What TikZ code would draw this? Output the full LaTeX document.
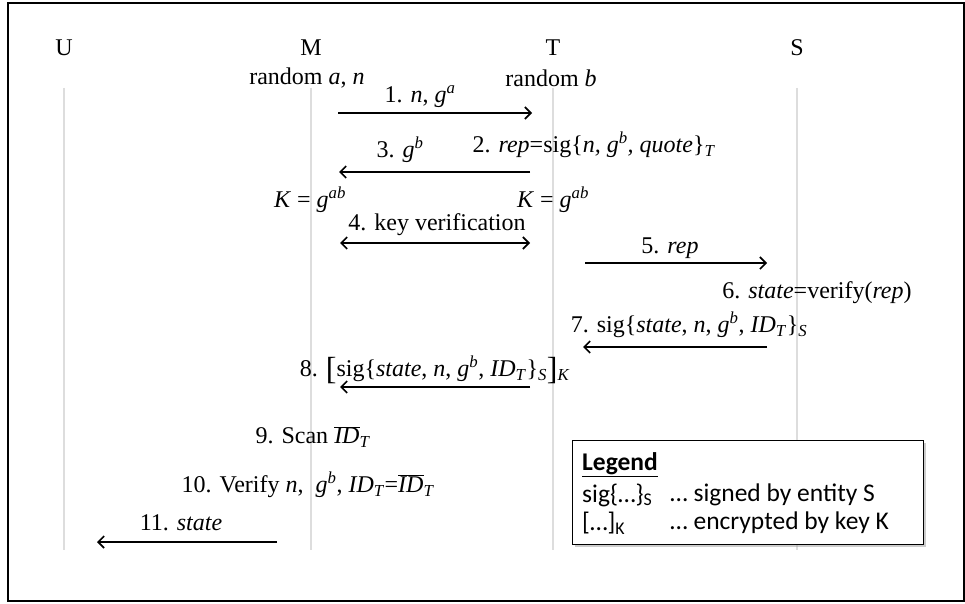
\documentclass[tikz,border=0pt]{standalone}
\usepackage{fontspec}
\setmainfont{Liberation Serif}
\newfontfamily\legendFont{Carlito}
\usetikzlibrary{arrows.meta,shadows}

\newcommand{\vr}[1]{\textit{#1}}
\newcommand{\sps}[1]{\textsuperscript{\textit{#1}}}
\newcommand{\sbs}[1]{\textsubscript{\textit{#1}}}
\newcommand{\barID}{$\overline{\hbox{\textit{ID}}}$}

\begin{document}
\begin{tikzpicture}[x=1pt, y=-1pt,
    every node/.style={font=\fontsize{24}{27}\selectfont, inner sep=0pt},
    lifeLine/.style={draw=lifeColour, line width=1.5pt},
    message/.style={line width=1.3pt, -{Straight Barb[length=6pt, width=12pt, line width=1.6pt]}},
    twoWay/.style={line width=1.3pt, {Straight Barb[length=6pt, width=12pt, line width=1.6pt]}-{Straight Barb[length=6pt, width=12pt, line width=1.6pt]}},
    legendText/.style={anchor=west, font=\legendFont\fontsize{25.5}{29}\selectfont}]

    % Define colours
    \definecolor{lifeColour}{HTML}{DDDDDD}
    \definecolor{shadowColour}{HTML}{9A9A9A}

    % Frame
    \useasboundingbox (0,0) rectangle (965,604);
    \draw[line width=1.5pt] (8,3) rectangle (964,601);

    % Participants
    \node (U) at (64,48) {U};
    \node (M) at (311,48) {M};
    \node (T) at (553,48) {T};
    \node (S) at (797,48) {S};

    % Draw lifelines
    \foreach \p in {U,M,T,S}
        \draw[lifeLine] (\p |- 0,88) -- (\p |- 0,550);

    % Local values
    \node (randM) at (307,78) {random \vr{a}, \vr{n}};
    \node (randT) at (551,78) {random \vr{b}};
    \node (keyM) at (310,200) {\vr{K} = \vr{g}\sps{ab}};
    \node (keyT) at (553,200) {\vr{K} = \vr{g}\sps{ab}};
    \node (verS) at (817,293) {6. \vr{state}=verify(\vr{rep})};
    \node (scanM) at (313,437) {9. Scan \barID\sbs{T}};
    \node (checkM) at (308,485) {10. Verify \vr{n}, \ \vr{g}\sps{b}, \vr{ID}\sbs{T}=\barID\sbs{T}};

    % Message labels
    \node (lab1) at (420,97) {1. \vr{n}, \vr{g}\sps{a}};
    \node (lab2) at (594,145) {2. \vr{rep}=sig\{\vr{n, g}\sps{b}\vr{, quote}\}\sbs{T}};
    \node (lab3) at (400,150) {3. \vr{g}\sps{b}};
    \node (lab4) at (437,225) {4. key verification};
    \node (lab5) at (670,248) {5. \vr{rep}};
    \node (lab7) at (689,325) {7. sig\{\vr{state}, \vr{n}, \vr{g}\sps{b}, \vr{ID}\sbs{T}\}\sbs{S}};
    \node (lab8) at (435,370) {8. \raisebox{-3pt}{\fontsize{32}{32}\selectfont[}sig\{\vr{state}, \vr{n}, \vr{g}\sps{b}, \vr{ID}\sbs{T}\}\sbs{S}\raisebox{-3pt}{\fontsize{32}{32}\selectfont]}\sbs{K}};
    \node (lab11) at (181,523) {11. \vr{state}};

    % Arrow end points
    \coordinate (m1) at (338,113);  \coordinate (t1) at (532,113);
    \coordinate (t3) at (530,172);  \coordinate (m3) at (339,172);
    \coordinate (m4) at (340,243);  \coordinate (t4) at (530,243);
    \coordinate (t5) at (585,263);  \coordinate (s5) at (767,263);
    \coordinate (s7) at (767,347);  \coordinate (t7) at (583,347);
    \coordinate (t8) at (530,387);  \coordinate (m8) at (340,387);
    \coordinate (m11) at (277,542); \coordinate (u11) at (97,542);

    % Draw messages
    \draw[message] (m1) -- (t1);
    \draw[message] (t3) -- (m3);
    \draw[twoWay] (m4) -- (t4);
    \draw[message] (t5) -- (s5);
    \draw[message] (s7) -- (t7);
    \draw[message] (t8) -- (m8);
    \draw[message] (m11) -- (u11);

    % Legend
    \node[draw, line width=1.2pt, fill=white, anchor=north west, minimum width=351pt, minimum height=104pt,
          drop shadow={shadow xshift=2pt, shadow yshift=-2pt, fill=shadowColour}] (legend) at (572,440) {};
    \node[legendText, font=\legendFont\fontsize{25.5}{29}\selectfont\bfseries] (legTitle) at (582,465) {\underline{Legend}};
    \node[legendText] (legSig) at (582,495) {sig\{…\}\textsubscript{S}};
    \node[legendText] (legSigText) at (670,495) {… signed by entity S};
    \node[legendText] (legEnc) at (582,523) {[…]\textsubscript{K}};
    \node[legendText] (legEncText) at (670,523) {… encrypted by key K};

\end{tikzpicture}
\end{document}
